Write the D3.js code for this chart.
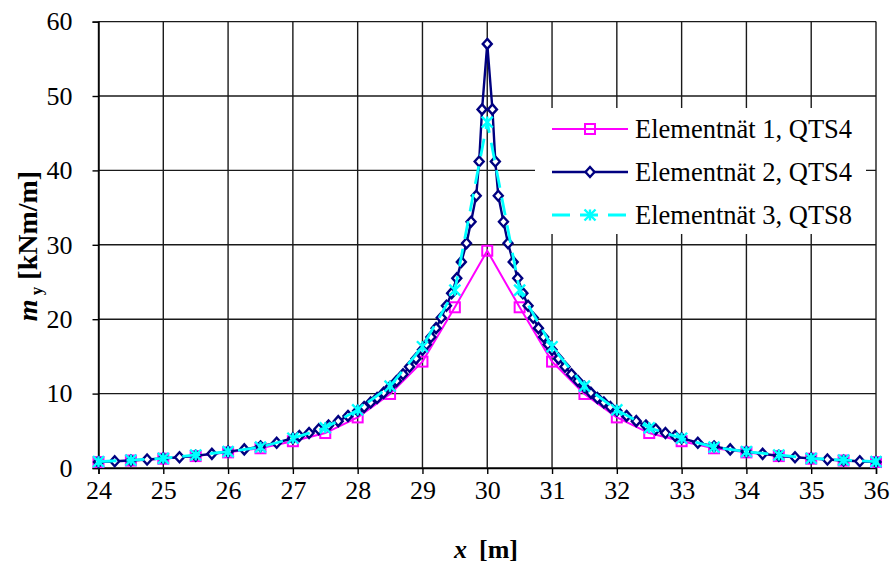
<!DOCTYPE html>
<html>
<head>
<meta charset="utf-8">
<script src="https://cdn.jsdelivr.net/npm/d3@7"></script>
<style>
  html, body { margin: 0; padding: 0; background: #fff; }
  svg text { font-family: "Liberation Serif", "Times New Roman", Times, "DejaVu Serif", serif; }
</style>
</head>
<body>
<svg id="chart" width="890" height="568"></svg>
<script>
// Mesh 1, QTS4 (nodes every 0.5 m)
const mesh1X = [24, 24.5, 25, 25.5, 26, 26.5, 27, 27.5, 28, 28.5, 29, 29.5, 30,
                30.5, 31, 31.5, 32, 32.5, 33, 33.5, 34, 34.5, 35, 35.5, 36];
const mesh1Y = [0.8, 1.0, 1.25, 1.6, 2.1, 2.65, 3.6, 4.7, 6.8, 9.95, 14.3, 21.6, 29.2,
                21.6, 14.3, 9.95, 6.8, 4.7, 3.6, 2.65, 2.1, 1.6, 1.25, 1.0, 0.8];

// Mesh 2, QTS4 (graded mesh, refined towards x = 30 m)
const mesh2X = [24, 24.25, 24.5, 24.75, 25, 25.25, 25.5, 25.75, 26, 26.25, 26.5, 26.75, 27,
                27.1, 27.25, 27.4, 27.55, 27.7, 27.85, 28,
                28.1, 28.2, 28.3, 28.4, 28.5, 28.6, 28.7, 28.8, 28.9, 29,
                29.06, 29.13, 29.21, 29.29, 29.37, 29.45, 29.53, 29.6, 29.68, 29.75, 29.83, 29.875, 29.92,
                30,
                30.08, 30.125, 30.17, 30.25, 30.32, 30.4, 30.47, 30.55, 30.63, 30.71, 30.79, 30.87, 30.94,
                31, 31.1, 31.2, 31.3, 31.4, 31.5, 31.6, 31.7, 31.8, 31.9,
                32, 32.15, 32.3, 32.45, 32.6, 32.75, 32.9,
                33, 33.25, 33.5, 33.75, 34, 34.25, 34.5, 34.75, 35, 35.25, 35.5, 35.75, 36];
const mesh2Y = [0.8, 0.9, 1.0, 1.15, 1.3, 1.45, 1.65, 1.9, 2.2, 2.5, 2.9, 3.4, 4.0,
                4.3, 4.7, 5.2, 5.7, 6.3, 7.0, 7.7,
                8.2, 8.8, 9.4, 10.1, 10.9, 11.7, 12.6, 13.6, 14.7, 15.9,
                16.6, 17.6, 18.8, 20.2, 21.8, 23.5, 25.5, 27.7, 30.2, 33.1, 36.6, 41.2, 48.2,
                57.0,
                48.2, 41.2, 36.6, 33.1, 30.2, 27.7, 25.5, 23.5, 21.8, 20.2, 18.8, 17.6, 16.6,
                15.9, 14.7, 13.6, 12.6, 11.7, 10.9, 10.1, 9.4, 8.8, 8.2,
                7.7, 7.0, 6.3, 5.7, 5.2, 4.7, 4.3,
                4.0, 3.4, 2.9, 2.5, 2.2, 1.9, 1.65, 1.45, 1.3, 1.15, 1.0, 0.9, 0.8];

// Mesh 3, QTS8 (nodes every 0.5 m)
const mesh3X = [24, 24.5, 25, 25.5, 26, 26.5, 27, 27.5, 28, 28.5, 29, 29.5, 30,
                30.5, 31, 31.5, 32, 32.5, 33, 33.5, 34, 34.5, 35, 35.5, 36];
const mesh3Y = [0.85, 1.07, 1.3, 1.75, 2.2, 2.8, 4.0, 5.4, 7.8, 11.0, 16.3, 23.9, 46.5,
                23.9, 16.3, 11.0, 7.8, 5.4, 4.0, 2.8, 2.2, 1.75, 1.3, 1.07, 0.85];

const xTicks = [24, 25, 26, 27, 28, 29, 30, 31, 32, 33, 34, 35, 36];
const yTicks = [0, 10, 20, 30, 40, 50, 60];
const seriesNames = ["Elementnät 1, QTS4", "Elementnät 2, QTS4", "Elementnät 3, QTS8"];

const FONT = '"Liberation Serif", "Times New Roman", Times, "DejaVu Serif", serif';
const svg = d3.select("#chart").attr("font-family", FONT);
const plotL = 98.5, plotR = 876, plotT = 21.6, plotB = 468;

const x = d3.scaleLinear().domain([24, 36]).range([plotL, plotR]);
const y = d3.scaleLinear().domain([0, 60]).range([plotB, plotT]);

// grid
const grid = svg.append("g").attr("stroke", "#1a1a1a").attr("stroke-width", 1.4);
grid.selectAll("line.v").data(xTicks).join("line").attr("class", "v")
  .attr("x1", d => x(d)).attr("x2", d => x(d)).attr("y1", plotT).attr("y2", plotB);
grid.selectAll("line.h").data(yTicks).join("line").attr("class", "h")
  .attr("x1", plotL).attr("x2", plotR).attr("y1", d => y(d)).attr("y2", d => y(d));

// axes
const fs = 26;
const xAxis = svg.append("g").attr("transform", `translate(0,${plotB})`)
  .call(d3.axisBottom(x).tickValues(xTicks).tickSize(6).tickPadding(7).tickFormat(d3.format("d")));
const yAxis = svg.append("g").attr("transform", `translate(${plotL},0)`)
  .call(d3.axisLeft(y).tickValues(yTicks).tickSize(6).tickPadding(20).tickFormat(d3.format("d")));
[xAxis, yAxis].forEach(a => {
  a.attr("font-family", FONT).attr("font-size", fs);
  a.selectAll("path.domain").attr("stroke", "#000").attr("stroke-width", 1.4);
  a.selectAll(".tick line").attr("stroke", "#000").attr("stroke-width", 1.4);
  a.selectAll(".tick text").attr("fill", "#000");
});

// series
const pts = (xs, ys) => xs.map((v, i) => [v, ys[i]]);
const line = d3.line().x(d => x(d[0])).y(d => y(d[1]));
const s1 = pts(mesh1X, mesh1Y), s2 = pts(mesh2X, mesh2Y), s3 = pts(mesh3X, mesh3Y);

const magenta = "#ff00ff", navy = "#000080", cyan = "#00ffff";

function square(g, cx, cy) {
  g.append("rect").attr("x", cx - 5).attr("y", cy - 5).attr("width", 10).attr("height", 10)
    .attr("fill", "none").attr("stroke", magenta).attr("stroke-width", 2);
}
function diamond(g, cx, cy) {
  g.append("path").attr("d", `M${cx},${cy - 5}L${cx + 4.5},${cy}L${cx},${cy + 5}L${cx - 4.5},${cy}Z`)
    .attr("fill", "#fff").attr("stroke", navy).attr("stroke-width", 2.4);
}
function star(g, cx, cy) {
  const r = 5.5;
  g.append("path")
    .attr("d", `M${cx - r},${cy - r}L${cx + r},${cy + r}M${cx - r},${cy + r}L${cx + r},${cy - r}M${cx},${cy - r}L${cx},${cy + r}`)
    .attr("stroke", cyan).attr("stroke-width", 2.4).attr("fill", "none");
}

const g1 = svg.append("g");
g1.append("path").datum(s1).attr("d", line).attr("fill", "none").attr("stroke", magenta).attr("stroke-width", 2);
s1.forEach(d => square(g1, x(d[0]), y(d[1])));

const g2 = svg.append("g");
g2.append("path").datum(s2).attr("d", line).attr("fill", "none").attr("stroke", navy).attr("stroke-width", 2.4);
s2.forEach(d => diamond(g2, x(d[0]), y(d[1])));

const g3 = svg.append("g");
g3.append("path").datum(s3).attr("d", line).attr("fill", "none").attr("stroke", cyan)
  .attr("stroke-width", 2.8).attr("stroke-dasharray", "18,10");
s3.forEach(d => star(g3, x(d[0]), y(d[1])));

// legend
const leg = svg.append("g");
leg.append("rect").attr("x", 535).attr("y", 108).attr("width", 331).attr("height", 126).attr("fill", "#fff");
const rows = [129, 172, 215];
const styles = [
  {c: magenta, w: 2, dash: null, m: square},
  {c: navy, w: 2.4, dash: null, m: diamond},
  {c: cyan, w: 2.8, dash: "18,10", m: star}
];
seriesNames.forEach((name, i) => {
  const ry = rows[i], st = styles[i];
  const ln = leg.append("line").attr("x1", 552).attr("x2", 628).attr("y1", ry).attr("y2", ry)
    .attr("stroke", st.c).attr("stroke-width", st.w);
  if (st.dash) ln.attr("stroke-dasharray", st.dash);
  st.m(leg, 590, ry);
  leg.append("text").attr("x", 635).attr("y", ry).attr("dy", "0.35em")
    .attr("font-size", 26.5).attr("fill", "#000").text(name);
});

// axis titles
const yt = svg.append("text").attr("transform", `translate(37,246) rotate(-90)`)
  .attr("text-anchor", "middle").attr("font-size", 28).attr("font-weight", "bold").attr("fill", "#000");
yt.append("tspan").attr("font-style", "italic").text("m");
yt.append("tspan").attr("font-size", 17).attr("dy", 5).text(" y");
yt.append("tspan").attr("dy", -5).text(" [kNm/m]");

const xt = svg.append("text").attr("x", 486).attr("y", 558)
  .attr("text-anchor", "middle").attr("font-size", 26).attr("font-weight", "bold").attr("fill", "#000");
xt.append("tspan").attr("font-style", "italic").text("x");
xt.append("tspan").attr("dx", 12).text("[m]");
</script>
</body>
</html>
